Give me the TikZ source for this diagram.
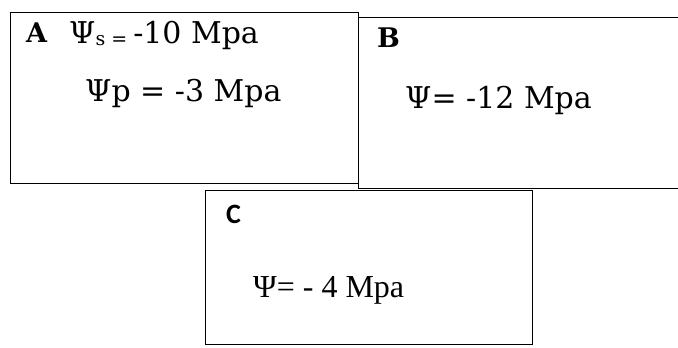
\documentclass[tikz,border=0pt]{standalone}
\usepackage{fontspec}
\setmainfont{DejaVu Serif}
\newfontfamily\timesfont{Liberation Serif}
\newfontfamily\labelfont{Carlito}
\usetikzlibrary{positioning}

\begin{document}
\begin{tikzpicture}[x=1pt,y=-1pt,
  panel/.style={draw,line width=1.4pt,anchor=north west,inner sep=0pt},
  letter/.style={anchor=base west,inner sep=0pt,font=\fontsize{27}{30}\selectfont\bfseries},
  value/.style={anchor=base west,inner sep=0pt,font=\fontsize{30}{34}\selectfont}]
  \useasboundingbox (0,0) rectangle (678,348);
  \clip (0,0) rectangle (678,348);
  % panels
  \node[panel,minimum width=348pt,minimum height=171pt](boxA) at (10,12){};
  \node[panel,minimum width=340pt,minimum height=171pt](boxB) at (358,17){};
  \node[panel,minimum width=327pt,minimum height=154pt](boxC) at (205,190){};
  % panel A
  \node[letter](labA) at (26,42){A};
  \node[value](psiS) at (69,43){Ψ{\fontsize{19}{19}\selectfont\raisebox{-2pt}{s = }}-10 Mpa};
  \node[value](psiP) at (85,101){Ψp = -3 Mpa};
  % panel B
  \node[letter](labB) at (377,47){B};
  \node[value](psiB) at (405,108){Ψ= -12 Mpa};
  % panel C
  \node[letter,font=\labelfont\fontsize{28}{30}\selectfont\bfseries](labC) at (226,223){C};
  \node[value,font=\timesfont\fontsize{32}{36}\selectfont](psiC) at (253,297){Ψ= - 4 Mpa};
\end{tikzpicture}
\end{document}
